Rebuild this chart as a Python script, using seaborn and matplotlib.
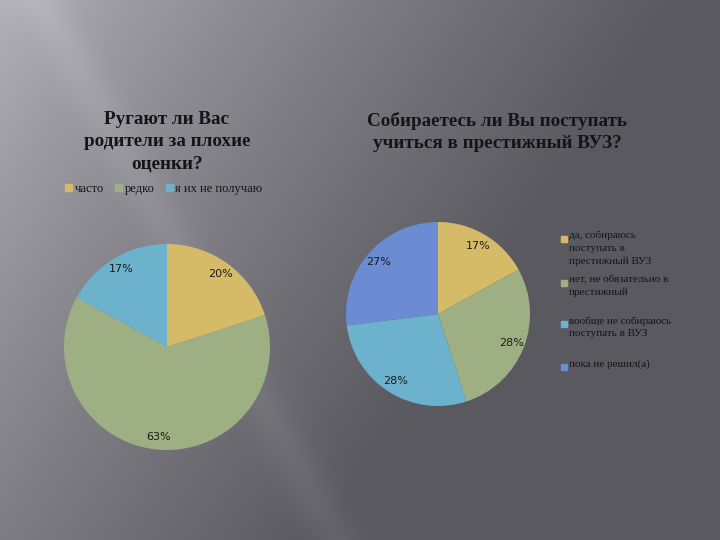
import numpy as np
import matplotlib
matplotlib.use("Agg")
import matplotlib.pyplot as plt
import seaborn as sns

# data
left_title = "Ругают ли Вас\nродители за плохие\nоценки?"
left_labels = ["часто", "редко", "я их не получаю"]
left_values = [20, 63, 17]

right_title = "Собираетесь ли Вы поступать\nучиться в престижный ВУЗ?"
right_labels = ["да, собираюсь\nпоступать в\nпрестижный ВУЗ",
                "нет, не обязательно в\nпрестижный",
                "вообще не собираюсь\nпоступать в ВУЗ",
                "пока не решил(а)"]
right_values = [17, 28, 28, 27]

colors = ["#d5bb68", "#9eb083", "#6db2cc", "#6b8bd2"]

sns.set_theme(style="white")
plt.rcParams['font.family'] = ['Liberation Serif', 'DejaVu Serif']

W, H = 720, 540
fig = plt.figure(figsize=(W / 100, H / 100), dpi=100)

# slide background gradient
bg = fig.add_axes([0, 0, 1, 1])
xx, yy = np.meshgrid(np.linspace(0, 1, 360), np.linspace(0, 1, 270))
d = np.clip((xx + 0.5 * yy) / 0.95, 0, 1)
val = 180 - 90 * d ** 0.8
streak = 10 * np.exp(-((xx * 720 - 40 - yy * 540 * 0.55) / 25) ** 2)
val = val + streak
rgb = np.dstack([val, val - 1, val + 6]) / 255.0
bg.imshow(np.clip(rgb, 0, 1), extent=[0, W, H, 0], aspect='auto')
bg.set_xlim(0, W)
bg.set_ylim(H, 0)
bg.axis('off')


def pie_axes(cx, cy, r):
    return fig.add_axes([(cx - r) / W, 1 - (cy + r) / H, 2 * r / W, 2 * r / H])


pct_style = dict(fontsize=8, family='DejaVu Sans', color='#1a1a1a')

# left pie
ax1 = pie_axes(167, 347, 103)
ax1.pie(left_values, colors=colors[:3], startangle=90, counterclock=False,
        autopct='%1.0f%%', pctdistance=0.88, radius=1,
        wedgeprops=dict(linewidth=0), textprops=pct_style)
ax1.set_xlim(-1, 1)
ax1.set_ylim(-1, 1)

# right pie
ax2 = pie_axes(438, 314, 92)
ax2.pie(right_values, colors=colors, startangle=90, counterclock=False,
        autopct='%1.0f%%', pctdistance=0.86, radius=1,
        wedgeprops=dict(linewidth=0), textprops=pct_style)
ax2.set_xlim(-1, 1)
ax2.set_ylim(-1, 1)

# titles
fig.text(167 / W, 1 - 111 / H, left_title, ha='center', va='top',
         fontsize=13.8, fontweight='bold', color='#151515', linespacing=1.42)
fig.text(497 / W, 1 - 112 / H, right_title, ha='center', va='top',
         fontsize=13.8, fontweight='bold', color='#151515', linespacing=1.35)

# left legend (horizontal)
handles1 = [plt.Rectangle((0, 0), 1, 1, color=c) for c in colors[:3]]
fig.legend(handles1, left_labels, loc='center left',
           bbox_to_anchor=(54 / W, 1 - 189 / H), ncol=3, frameon=False,
           fontsize=9, handlelength=0.55, handleheight=0.55,
           handletextpad=0.2, columnspacing=0.9, labelcolor='#151515')

# right legend (vertical, first line aligned with the marker)
legend_y = [238, 282, 323, 366]
for lab, c, y in zip(right_labels, colors, legend_y):
    fig.patches.append(plt.Rectangle((561 / W, 1 - (y + 3.5) / H), 6 / W, 6 / H,
                                     color=c, transform=fig.transFigure,
                                     figure=fig))
    fig.text(569 / W, 1 - (y - 7) / H, lab, ha='left', va='top',
             fontsize=8, color='#151515', linespacing=1.45)

fig.savefig("out.png", dpi=100)
